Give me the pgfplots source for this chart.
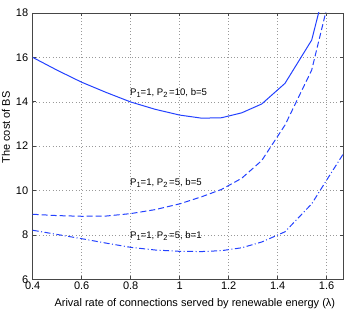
\documentclass[border=0pt]{standalone}
\usepackage{pgfplots}
\pgfplotsset{compat=1.18}
\usepackage{fontspec}
\setmainfont{Liberation Sans}
\definecolor{mblue}{RGB}{35,65,255}
\definecolor{frame}{RGB}{70,70,70}
\newcommand{\sub}[1]{\raisebox{-0.45ex}{\fontsize{7.5}{8}\selectfont #1}}
\begin{document}
\begin{tikzpicture}
\useasboundingbox (-32.7pt,-33pt) rectangle (321.3pt,279.3pt);
\begin{axis}[
  scale only axis,
  width=310.6pt, height=266.3pt,
  xmin=0.4, xmax=1.668, ymin=6, ymax=18,
  xtick={0.4,0.6,0.8,1,1.2,1.4,1.6},
  ytick={6,8,10,12,14,16,18},
  xticklabels={0.4,0.6,0.8,1,1.2,1.4,1.6},
  yticklabels={6,8,10,12,14,16,18},
  tick align=inside, tick pos=both,
  major tick length=3pt,
  axis line style={frame, line width=0.7pt},
  every tick/.style={frame, line width=0.6pt},
  grid=major,
  major grid style={black!40, line width=0.5pt, dash pattern=on 0.7pt off 2.6pt},
  ticklabel style={font=\fontsize{11}{13}\selectfont, text=black},
  /pgf/number format/assume math mode=true,
  xticklabel style={yshift=1pt},
  yticklabel style={xshift=-1pt},
  xlabel={Arival rate of connections served by renewable energy (λ)},
  every axis x label/.style={font=\fontsize{11}{13}\selectfont, at={(axis description cs:0.522,0)}, anchor=base, yshift=-27pt},
  ylabel={The cost of BS},
  every axis y label/.style={font=\fontsize{11}{13}\selectfont, at={(axis description cs:-0.0731,0.57)}, rotate=90, anchor=base},
  clip=true,
]
\addplot[mblue, line width=1pt] coordinates {
(0.4,16.0) (0.5,15.42) (0.6,14.88) (0.7,14.42) (0.8,13.99) (0.9,13.66) (1.0,13.40) (1.09,13.26) (1.171,13.28) (1.253,13.50) (1.335,13.90) (1.430,14.83) (1.539,16.78) (1.62,20.3)
};
\addplot[mblue, line width=1pt, dash pattern=on 6pt off 3pt] coordinates {
(0.4,8.93) (0.5,8.87) (0.6,8.84) (0.7,8.85) (0.8,8.96) (0.9,9.14) (1.0,9.40) (1.09,9.72) (1.171,10.05) (1.253,10.55) (1.335,11.35) (1.430,12.95) (1.539,15.43) (1.62,19.1)
};
\addplot[mblue, line width=1pt, dash pattern=on 6pt off 2.5pt on 1pt off 2.5pt] coordinates {
(0.4,8.21) (0.5,8.02) (0.6,7.83) (0.7,7.63) (0.8,7.44) (0.9,7.32) (1.0,7.26) (1.09,7.25) (1.171,7.29) (1.253,7.42) (1.335,7.68) (1.430,8.14) (1.539,9.40) (1.60,10.47) (1.668,11.65) (1.72,12.7)
};
\node[anchor=base west, inner sep=0pt, font=\fontsize{9.6}{11}\selectfont] at (axis cs:0.797,14.30) {P\sub{1}=1, P\sub{2}\,=10, b=5};
\node[anchor=base west, inner sep=0pt, font=\fontsize{9.6}{11}\selectfont] at (axis cs:0.797,10.24) {P\sub{1}=1, P\sub{2}\,=5, b=5};
\node[anchor=base west, inner sep=0pt, font=\fontsize{9.6}{11}\selectfont] at (axis cs:0.797,7.84) {P\sub{1}=1, P\sub{2}\,=5, b=1};
\end{axis}
\end{tikzpicture}
\end{document}
